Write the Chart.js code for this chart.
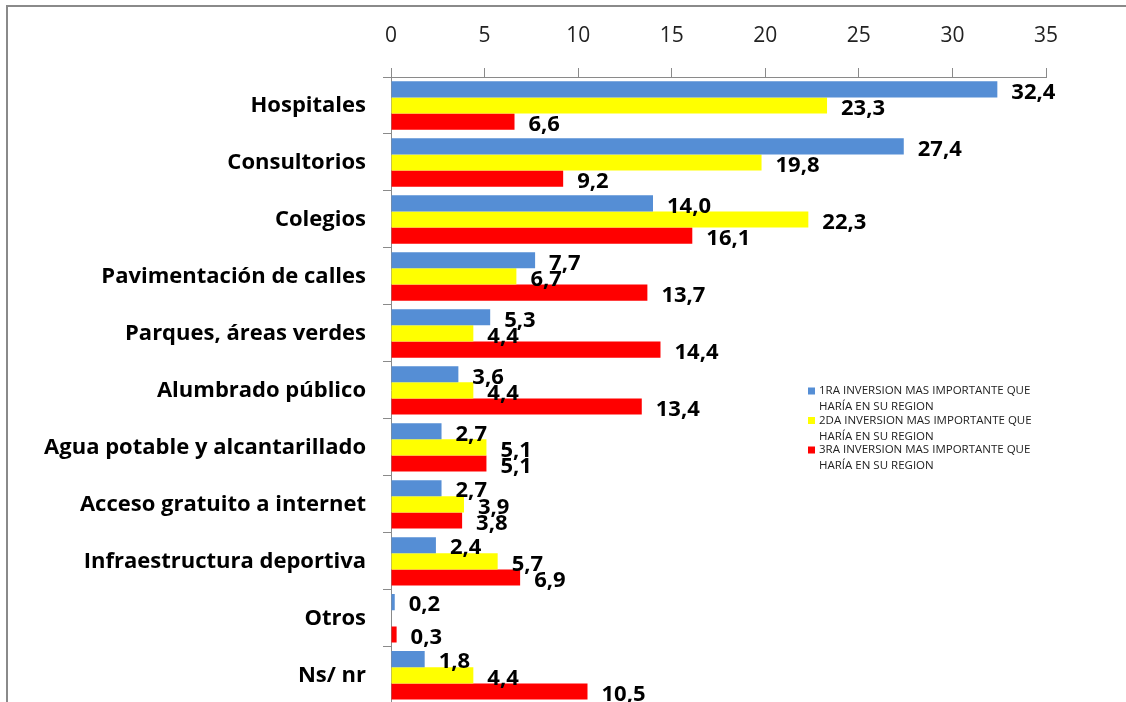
<!DOCTYPE html>
<html>
<head>
<meta charset="utf-8">
<script src="https://cdn.jsdelivr.net/npm/chart.js@4"></script>
<style>
    html, body { margin: 0; padding: 0; background: #fff; overflow: hidden; }
    #frame {
        position: absolute; left: 6px; top: 5px; width: 1200px; height: 800px;
        border-left: 2px solid #8a8a8a; border-top: 2px solid #8a8a8a;
    }
    #chart { position: absolute; left: 0; top: 0; }
</style>
</head>
<body>
<div id="frame"></div>
<canvas id="chart" width="1126" height="734"></canvas>
<script>
const categories = [
    'Hospitales', 'Consultorios', 'Colegios', 'Pavimentación de calles',
    'Parques, áreas verdes', 'Alumbrado público', 'Agua potable y alcantarillado',
    'Acceso gratuito a internet', 'Infraestructura deportiva', 'Otros', 'Ns/ nr'
]
const primera = [32.4, 27.4, 14.0, 7.7, 5.3, 3.6, 2.7, 2.7, 2.4, 0.2, 1.8]
const segunda = [23.3, 19.8, 22.3, 6.7, 4.4, 4.4, 5.1, 3.9, 5.7, null, 4.4]
const tercera = [6.6, 9.2, 16.1, 13.7, 14.4, 13.4, 5.1, 3.8, 6.9, 0.3, 10.5]
const seriesLines = [
    ['1RA INVERSION MAS IMPORTANTE QUE', 'HARÍA EN SU REGION'],
    ['2DA INVERSION MAS IMPORTANTE QUE', 'HARÍA EN SU REGION'],
    ['3RA INVERSION MAS IMPORTANTE QUE', 'HARÍA EN SU REGION']
]
const seriesColors = ['#558ed5', '#ffff00', '#ff0000']
const xTicks = [0, 5, 10, 15, 20, 25, 30, 35]

const fmt = (v) => v.toFixed(1).replace('.', ',')

// value labels next to each bar end
const valueLabels = {
    id: 'valueLabels',
    afterDatasetsDraw(chart) {
        const ctx = chart.ctx
        ctx.save()
        ctx.font = 'bold 22px "Open Sans"'
        ctx.fillStyle = '#000'
        ctx.textAlign = 'left'
        ctx.textBaseline = 'middle'
        chart.data.datasets.forEach((ds, i) => {
            chart.getDatasetMeta(i).data.forEach((bar, j) => {
                const v = ds.data[j]
                if (v === null) return
                ctx.fillText(fmt(v), bar.x + 14, bar.y + 3)
            })
        })
        ctx.restore()
    }
}

// two-line legend inside the plot
const sideLegend = {
    id: 'sideLegend',
    afterDraw(chart) {
        const ctx = chart.ctx
        ctx.save()
        ctx.font = '11.5px "Open Sans"'
        ctx.textBaseline = 'middle'
        chart.data.datasets.forEach((ds, i) => {
            const y = 391 + i * 29.5
            ctx.fillStyle = ds.backgroundColor
            ctx.fillRect(808, y - 3.5, 7, 7)
            ctx.fillStyle = '#222'
            seriesLines[i].forEach((line, k) => ctx.fillText(line, 819, y + k * 16))
        })
        ctx.restore()
    }
}

window.addEventListener('load', () => {
    const el = document.getElementById('chart')
    new Chart(el, {
        type: 'bar',
        data: {
            labels: categories,
            datasets: [primera, segunda, tercera].map((d, i) => ({
                label: seriesLines[i].join(' '),
                data: d,
                backgroundColor: seriesColors[i],
                borderWidth: 0,
                categoryPercentage: 0.85,
                barPercentage: 1.0
            }))
        },
        options: {
            indexAxis: 'y',
            responsive: false,
            animation: false,
            layout: { padding: { left: 10, top: 0, right: 80, bottom: 2 } },
            plugins: {
                legend: { display: false },
                tooltip: { enabled: false }
            },
            scales: {
                x: {
                    position: 'top',
                    min: 0,
                    max: 35,
                    afterBuildTicks: (scale) => { scale.ticks = xTicks.map(v => ({ value: v })) },
                    afterFit: (scale) => { scale.height = 77 },
                    grid: { drawOnChartArea: false, tickLength: 9, color: '#8a8a8a' },
                    border: { color: '#8a8a8a' },
                    ticks: {
                        padding: 19,
                        color: '#222',
                        font: { family: 'Open Sans', size: 21 }
                    }
                },
                y: {
                    afterFit: (scale) => { scale.width = 381 },
                    grid: { drawOnChartArea: false, tickLength: 8, color: '#8a8a8a' },
                    border: { color: '#8a8a8a' },
                    ticks: {
                        padding: 17,
                        color: '#000',
                        font: { family: 'Open Sans', size: 22, weight: 'bold' }
                    }
                }
            }
        },
        plugins: [valueLabels, sideLegend]
    })
})
</script>
</body>
</html>
